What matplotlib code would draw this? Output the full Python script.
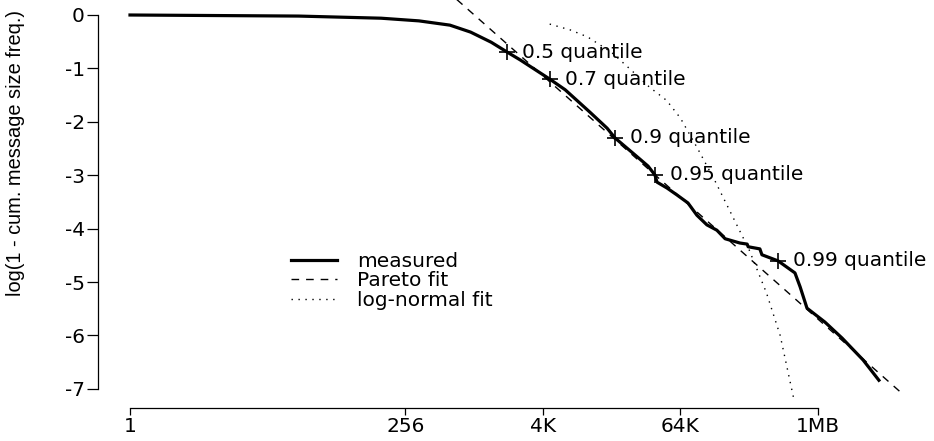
import matplotlib
matplotlib.use("Agg")
import matplotlib.pyplot as plt
from matplotlib.lines import Line2D

# x: log2(message size in bytes), y: ln(1 - cumulative frequency)
meas_x = [0.0, 4.9, 7.3, 8.4, 9.3, 9.9, 10.5, 10.96, 11.34, 12.21, 12.65, 13.37,
          13.87, 14.10, 14.68, 15.06, 15.26, 15.32, 15.61, 15.90, 16.22, 16.48,
          16.77, 17.06, 17.30, 17.73, 17.94, 17.97, 18.31, 18.37, 18.84, 19.33,
          19.48, 19.68, 20.20, 20.35, 20.70, 21.31, 21.77]
meas_y = [0.0, -0.02, -0.06, -0.11, -0.19, -0.32, -0.51, -0.693, -0.84, -1.204,
          -1.40, -1.82, -2.12, -2.303, -2.62, -2.83, -2.996, -3.13, -3.24, -3.37,
          -3.52, -3.75, -3.93, -4.03, -4.19, -4.27, -4.29, -4.34, -4.38, -4.49,
          -4.605, -4.83, -5.09, -5.49, -5.75, -5.84, -6.05, -6.46, -6.84]

pareto_x = [9.5, 22.5]
pareto_y = [0.29, -7.12]

lnorm_x = [12.2, 12.8, 13.3, 14.0, 14.6, 15.1, 15.6, 16.0, 16.5, 17.0, 17.5,
           18.0, 18.5, 18.9, 19.3]
lnorm_y = [-0.17, -0.28, -0.41, -0.70, -1.05, -1.35, -1.60, -1.93, -2.50,
           -3.10, -3.75, -4.40, -5.20, -6.00, -7.20]

q_labels = ['0.5 quantile', '0.7 quantile', '0.9 quantile', '0.95 quantile',
            '0.99 quantile']
q_x = [10.96, 12.21, 14.10, 15.26, 18.84]
q_y = [-0.693, -1.204, -2.303, -2.996, -4.605]

xtick_pos = [0, 8, 12, 16, 20]
xtick_lab = ['1', '256', '4K', '64K', '1MB']
ytick_pos = [0, -1, -2, -3, -4, -5, -6, -7]

plt.rcParams['font.family'] = ['DejaVu Sans']
fs = 14.5

W, H = 934, 441
fig = plt.figure(figsize=(W / 100, H / 100), dpi=100)
left, right, top, bottom = 98, 920, 0, 404
ax = fig.add_axes([left / W, (H - bottom) / H, (right - left) / W, (bottom - top) / H])

ax.plot(meas_x, meas_y, color='black', lw=2.3, solid_joinstyle='round')
ax.plot(pareto_x, pareto_y, color='black', lw=1.0, dashes=(5.5, 5))
ax.plot(lnorm_x, lnorm_y, color='black', lw=1.0, dashes=(1, 4))
ax.plot(q_x, q_y, ls='none', marker='+', ms=12, mew=1.2, color='black')
for lab, x, y in zip(q_labels, q_x, q_y):
    ax.annotate(lab, (x, y), xytext=(10.5, 0), textcoords='offset points',
                va='center', ha='left', fontsize=fs)

pxx, pxy = 34.4, 53.4
ax.set_xlim(-(130 - left) / pxx, (right - 130) / pxx)
ax.set_ylim(-(bottom - 15) / pxy, 15 / pxy)

for s in ['top', 'right']:
    ax.spines[s].set_visible(False)
ax.spines['left'].set_bounds(-7, 0)
ax.spines['bottom'].set_bounds(0, 20)
ax.spines['bottom'].set_position(('outward', 3))
ax.spines['left'].set_linewidth(0.9)
ax.spines['bottom'].set_linewidth(0.9)
ax.set_xticks(xtick_pos)
ax.set_xticklabels(xtick_lab)
ax.set_yticks(ytick_pos)
ax.set_yticklabels([str(v) for v in ytick_pos])
ax.tick_params(axis='y', direction='out', length=8, width=0.9, pad=1.5, labelsize=fs)
ax.tick_params(axis='x', direction='out', length=5, width=0.9, pad=1.5, labelsize=fs)
ax.set_ylabel('log(1 - cum. message size freq.)', fontsize=14.4,
              family=['Liberation Sans', 'DejaVu Sans'])
ax.yaxis.set_label_coords((25 - left) / (right - left), (bottom - 153) / bottom)

handles = [Line2D([], [], color='black', lw=2.3),
           Line2D([], [], color='black', lw=1.0, dashes=(5.5, 5)),
           Line2D([], [], color='black', lw=1.0, dashes=(1, 4))]
ax.legend(handles, ['measured', 'Pareto fit', 'log-normal fit'], frameon=False,
          loc='upper left', bbox_to_anchor=(291 / W, (H - 252) / H),
          bbox_transform=fig.transFigure, handlelength=2.3, handletextpad=1.0,
          labelspacing=0.02, borderpad=0, borderaxespad=0, fontsize=fs)

fig.savefig('out.png', dpi=100)
